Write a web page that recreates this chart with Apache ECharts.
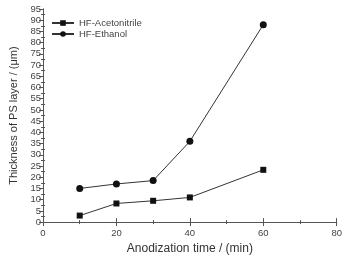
<!DOCTYPE html>
<html>
<head>
<meta charset="utf-8">
<script src="https://cdn.jsdelivr.net/npm/echarts@6/dist/echarts.min.js"></script>
<style>
  html, body { margin: 0; padding: 0; background: #fff; }
  #chart { width: 345px; height: 260px; }
</style>
</head>
<body>
<div id="chart"></div>
<script>
// anodization time (min)
var times = [10, 20, 30, 40, 60];
// thickness of PS layer (um)
var acetonitrile = [2.9, 8.3, 9.5, 11.0, 23.3];
var ethanol = [15.0, 17.0, 18.5, 36.0, 88.0];

var font = 'Liberation Sans, Arial, sans-serif';
var axisCol = '#555';

function pairs(xs, ys) {
    return xs.map(function (x, i) { return [x, ys[i]]; });
}

var mychart = echarts.init(document.getElementById('chart'));
var option = {
    animation: false,
    textStyle: { fontFamily: font },
    grid: { left: 40, right: 5, top: 9, bottom: 32 },
    legend: {
        left: 51, top: 18, orient: 'vertical', padding: 0,
        itemWidth: 22, itemHeight: 7, itemGap: 1,
        textStyle: { fontSize: 9.5, color: '#444', fontFamily: font },
        data: ['HF-Acetonitrile', 'HF-Ethanol']
    },
    xAxis: [{
        type: 'value', min: 0, max: 80, interval: 20,
        name: 'Anodization time / (min)', nameLocation: 'middle', nameGap: 20,
        nameTextStyle: { fontSize: 12, color: '#333' },
        axisLine: { lineStyle: { color: axisCol, width: 1 } },
        axisTick: { inside: true, length: 4, lineStyle: { color: axisCol } },
        minorTick: { show: true, splitNumber: 2, length: 2, lineStyle: { color: axisCol } },
        axisLabel: { fontSize: 9.5, color: '#444', margin: 6 },
        splitLine: { show: false }
    }, {
        type: 'value', min: 0, max: 80, interval: 20, position: 'top',
        axisLine: { show: true, lineStyle: { color: axisCol, width: 1 } },
        axisTick: { inside: true, length: 4, lineStyle: { color: axisCol } },
        minorTick: { show: true, splitNumber: 2, length: 2, lineStyle: { color: axisCol } },
        axisLabel: { show: false },
        splitLine: { show: false }
    }],
    yAxis: [{
        type: 'value', min: 0, max: 95, interval: 5,
        name: 'Thickness of PS layer / (μm)', nameLocation: 'middle', nameGap: 24,
        nameTextStyle: { fontSize: 11, color: '#333' },
        axisLine: { show: true, lineStyle: { color: axisCol, width: 1 } },
        axisTick: { inside: false, length: 3, lineStyle: { color: axisCol } },
        axisLabel: { fontSize: 9.5, color: '#444', margin: 2 },
        splitLine: { show: false }
    }, {
        type: 'value', min: 0, max: 95, interval: 5, position: 'right',
        axisLine: { show: true, lineStyle: { color: axisCol, width: 1 } },
        axisTick: { inside: true, length: 4, lineStyle: { color: axisCol } },
        minorTick: { show: true, splitNumber: 2, length: 2, lineStyle: { color: axisCol } },
        axisLabel: { show: false },
        splitLine: { show: false }
    }, {
        // inner minor ticks on the left side
        type: 'value', min: 0, max: 95, interval: 5, position: 'left',
        axisLine: { show: false },
        axisTick: { show: false, inside: true },
        minorTick: { show: true, splitNumber: 2, length: 2, lineStyle: { color: axisCol } },
        axisLabel: { show: false },
        splitLine: { show: false }
    }],
    series: [
        {
            name: 'HF-Acetonitrile', type: 'line',
            data: pairs(times, acetonitrile),
            symbol: 'rect', symbolSize: 6,
            itemStyle: { color: '#111' },
            lineStyle: { color: '#333', width: 1 }
        },
        {
            name: 'HF-Ethanol', type: 'line',
            data: pairs(times, ethanol),
            symbol: 'circle', symbolSize: 7,
            itemStyle: { color: '#111' },
            lineStyle: { color: '#333', width: 1 }
        }
    ]
};
mychart.setOption(option);
</script>
</body>
</html>
